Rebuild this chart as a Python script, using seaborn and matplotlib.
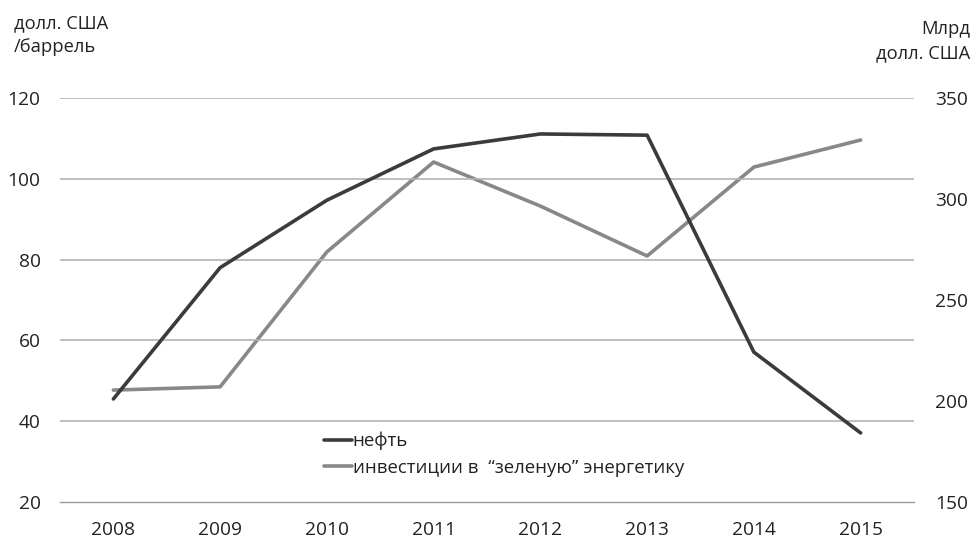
import matplotlib
matplotlib.use("Agg")
import matplotlib.pyplot as plt
import seaborn as sns
import pandas as pd

years = ["2008", "2009", "2010", "2011", "2012", "2013", "2014", "2015"]
oil = [45.5, 78.0, 94.7, 107.4, 111.1, 110.8, 57.1, 37.1]
green = [205.4, 207.0, 273.8, 318.3, 296.5, 271.8, 315.8, 329.2]
left_ticks = [20, 40, 60, 80, 100, 120]
right_ticks = [150, 200, 250, 300, 350]

sns.set_style("white")
plt.rcParams['font.family'] = ['Open Sans', 'DejaVu Sans']

df = pd.DataFrame({"x": range(len(years)), "oil": oil, "green": green})

fig = plt.figure(figsize=(9.73, 5.41), dpi=100)
W, H = 973, 541
ax = fig.add_axes([60 / W, 1 - 502 / H, (914 - 60) / W, (502 - 98) / H])
ax2 = ax.twinx()

dark = "#3b3b3b"
light = "#888888"
grid = "#b3b3b3"
fs = 13.8

sns.lineplot(data=df, x="x", y="oil", ax=ax, color=dark, lw=2.6, zorder=3,
             solid_capstyle="round", label="нефть", legend=False)
sns.lineplot(data=df, x="x", y="green", ax=ax2, color=light, lw=2.6, zorder=2,
             solid_capstyle="round", label="инвестиции в  “зеленую” энергетику", legend=False)

ax.set_zorder(ax2.get_zorder() + 1)
ax.patch.set_visible(False)

ax.set_xlim(-0.5, len(years) - 0.5)
ax.set_ylim(20, 120)
ax2.set_ylim(150, 350)
ax.set_yticks(left_ticks)
ax2.set_yticks(right_ticks)
ax.set_yticklabels([str(t) for t in left_ticks])
ax2.set_yticklabels([str(t) for t in right_ticks])

ax.set_xticks([i for i in range(len(years))])
ax.set_xticklabels(years)
ax.set_xticks([i - 0.5 for i in range(len(years) + 1)], minor=True)
ax.tick_params(axis="x", which="major", length=0, pad=14, labelsize=fs, colors="#222222")
ax.tick_params(axis="x", which="minor", length=6, width=1, color="#999999", direction="out")
ax.tick_params(axis="y", length=0, pad=14, labelsize=fs, colors="#222222")
ax2.tick_params(axis="y", length=0, pad=15, labelsize=fs, colors="#222222")

for a in (ax, ax2):
    for s in a.spines.values():
        s.set_visible(False)
ax.spines["bottom"].set_visible(True)
ax.spines["bottom"].set_color("#999999")
ax.spines["bottom"].set_linewidth(1)

for t in left_ticks[1:]:
    ax.axhline(t, color=grid, lw=1.2, zorder=0)

ax.set_xlabel("")
ax.set_ylabel("")
ax2.set_ylabel("")

fig.text(14 / W, 1 - 35 / H, "долл. США\n/баррель", fontsize=13.2, ha="left", va="center",
         linespacing=1.45, color="#222222")
fig.text(970 / W, 1 - 41 / H, "Млрд\nдолл. США", fontsize=13.2, ha="right", va="center",
         linespacing=1.4, color="#222222")

h1, l1 = ax.get_legend_handles_labels()
h2, l2 = ax2.get_legend_handles_labels()
leg = fig.legend(h1 + h2, l1 + l2, loc="upper left", bbox_to_anchor=(324 / W, 1 - 432 / H),
                 frameon=False, fontsize=13.4, handlelength=1.5, handletextpad=0.05,
                 labelspacing=0.45, borderpad=0, borderaxespad=0)
for t in leg.get_texts():
    t.set_color("#222222")

fig.savefig("out.png", dpi=100)
